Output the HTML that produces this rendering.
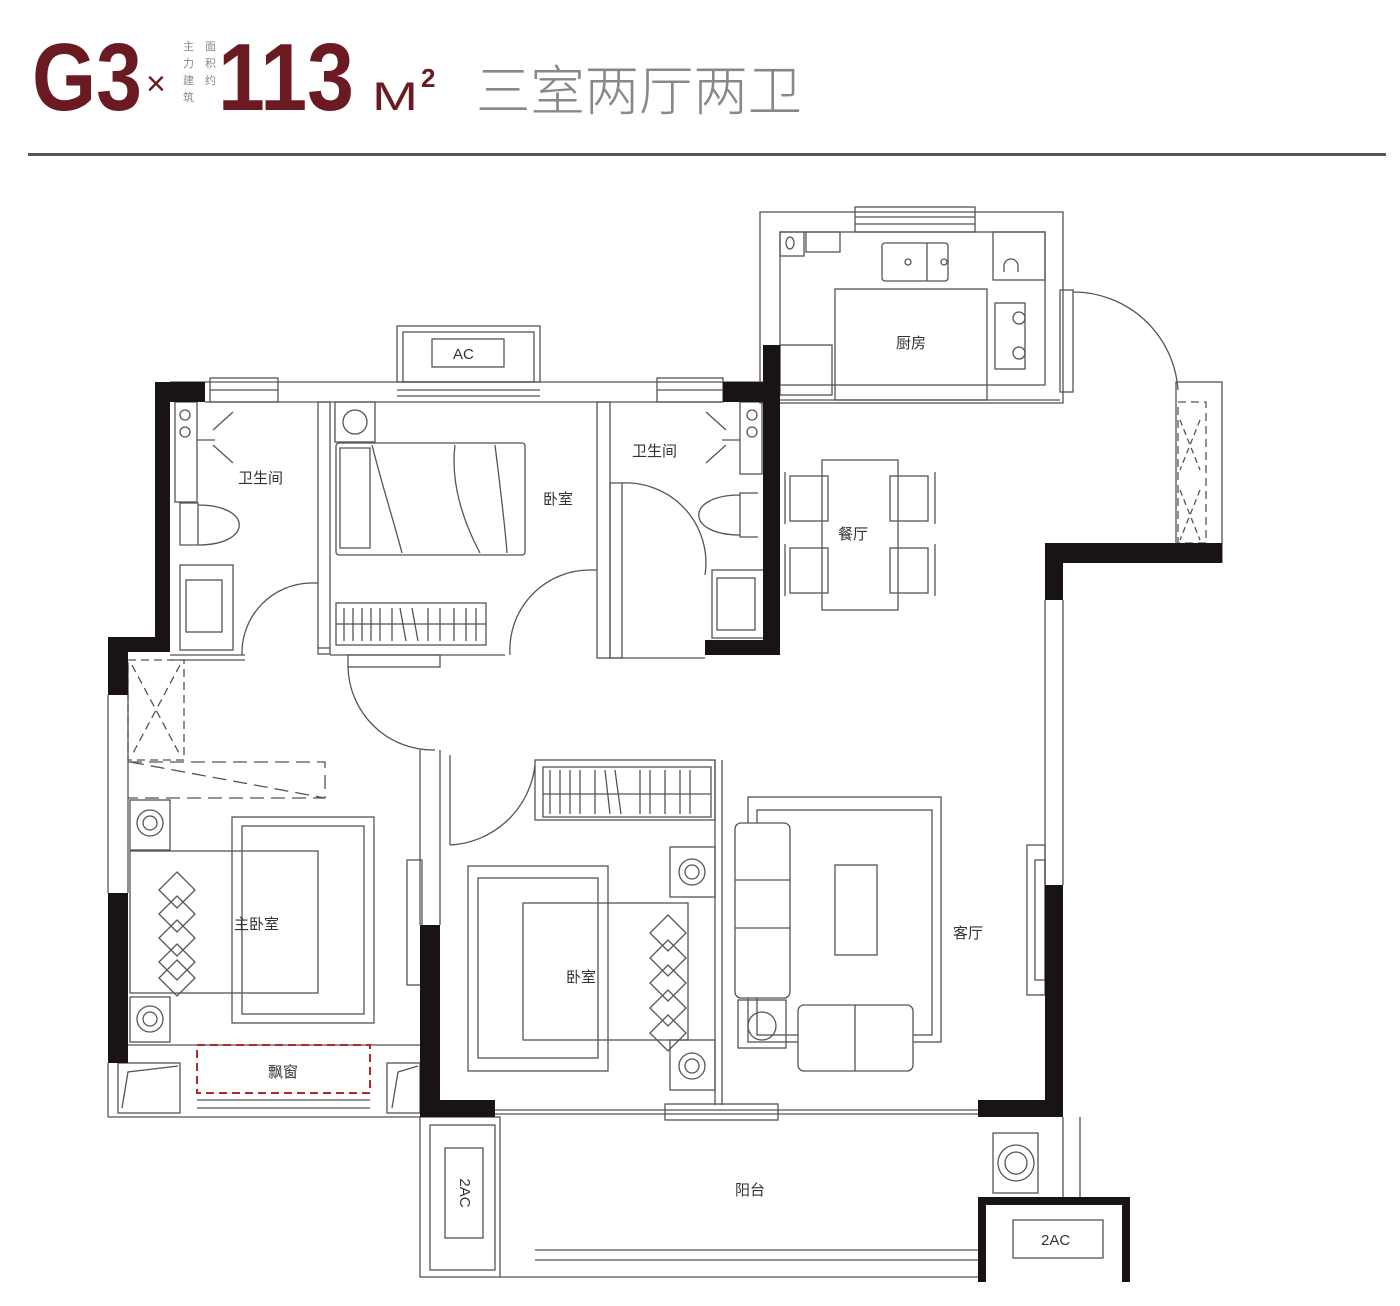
<!DOCTYPE html>
<html><head><meta charset="utf-8"><style>
html,body{margin:0;padding:0;background:#fff;}
svg{display:block}
</style></head><body>
<svg width="1400" height="1306" viewBox="0 0 1400 1306" xmlns="http://www.w3.org/2000/svg" font-family="Liberation Sans, Noto Sans CJK SC, sans-serif">
<!-- Header -->
<text x="32" y="110" font-size="96" font-weight="bold" fill="#6b1a22" textLength="110" lengthAdjust="spacingAndGlyphs">G3</text>
<text x="146" y="95" font-size="34" fill="#6b1a22">×</text>
<g font-size="11" fill="#888">
<text x="183" y="50">主</text><text x="183" y="67">力</text><text x="183" y="84">建</text><text x="183" y="101">筑</text>
<text x="205" y="50">面</text><text x="205" y="67">积</text><text x="205" y="84">约</text>
</g>
<text x="218" y="110" font-size="96" font-weight="bold" fill="#6b1a22" textLength="136" lengthAdjust="spacingAndGlyphs">113</text>
<text x="372" y="110" font-size="40" fill="#6b1a22" textLength="46" lengthAdjust="spacingAndGlyphs">M</text>
<text x="421" y="87" font-size="26" font-weight="bold" fill="#6b1a22">2</text>
<text x="476" y="110" font-size="54" fill="#888" font-weight="normal" textLength="326" lengthAdjust="spacingAndGlyphs" style="font-family:'Noto Sans CJK SC',sans-serif;font-weight:300">三室两厅两卫</text>
<rect x="28" y="153" width="1358" height="3" fill="#555"/>

<g fill="none" stroke="#555" stroke-width="1.3">
<!-- top exterior -->
<line x1="170" y1="382" x2="763" y2="382"/><line x1="205" y1="402" x2="723" y2="402"/>
<rect x="210" y="378" width="68" height="24"/><line x1="210" y1="390" x2="278" y2="390"/>
<rect x="397" y="326" width="143" height="56"/><rect x="403" y="332" width="131" height="50"/>
<line x1="397" y1="390" x2="540" y2="390"/><line x1="397" y1="396" x2="540" y2="396"/>
<rect x="432" y="339" width="72" height="28"/>
<rect x="657" y="378" width="66" height="24"/><line x1="657" y1="390" x2="723" y2="390"/>
<!-- kitchen -->
<rect x="760" y="212" width="303" height="191"/><rect x="780" y="232" width="265" height="153"/>
<rect x="855" y="207" width="120" height="25"/><line x1="855" y1="217" x2="975" y2="217"/><line x1="855" y1="224" x2="975" y2="224"/>
<rect x="780" y="232" width="24" height="24"/><ellipse cx="790" cy="243" rx="4" ry="6"/>
<rect x="806" y="232" width="34" height="20"/>
<rect x="882" y="243" width="66" height="38" rx="3"/><line x1="927" y1="243" x2="927" y2="281"/>
<circle cx="908" cy="262" r="3"/><circle cx="944" cy="262" r="3"/>
<rect x="993" y="232" width="52" height="48"/><path d="M1004 272 v-6 a7 7 0 0 1 14 0 v6"/>
<rect x="835" y="289" width="152" height="111"/>
<rect x="995" y="303" width="30" height="66"/><circle cx="1019" cy="318" r="6"/><circle cx="1019" cy="353" r="6"/>
<rect x="780" y="345" width="52" height="50"/>
<line x1="780" y1="400" x2="1060" y2="400"/>
<!-- kitchen door -->
<rect x="1060" y="290" width="13" height="102"/>
<path d="M1073 292 A105 105 0 0 1 1178 390"/>
<rect x="1176" y="382" width="46" height="180"/>
<rect x="1178" y="402" width="28" height="141" stroke-dasharray="8 5"/>
<path d="M1180 420 L1200 470 M1200 420 L1180 470 M1180 490 L1200 540 M1200 490 L1180 540" stroke-dasharray="6 4"/>
<!-- right exterior -->
<line x1="1045" y1="600" x2="1045" y2="885"/><line x1="1063" y1="600" x2="1063" y2="885"/>
<rect x="1027" y="845" width="18" height="150"/><rect x="1035" y="860" width="10" height="120"/>
<line x1="1063" y1="1117" x2="1063" y2="1197"/><line x1="1080" y1="1117" x2="1080" y2="1197"/>
<!-- left exterior -->
<line x1="108" y1="695" x2="108" y2="893"/><line x1="128" y1="662" x2="128" y2="893"/>
<rect x="128" y="660" width="56" height="100" stroke-dasharray="8 5"/>
<path d="M132 665 L180 755 M180 665 L132 755" stroke-dasharray="8 5"/>
<path d="M128 762 H325 V798 H128 M130 762 L325 798" stroke-dasharray="14 7"/>
<line x1="108" y1="1063" x2="108" y2="1117"/><line x1="108" y1="1117" x2="420" y2="1117"/>
<line x1="128" y1="1045" x2="420" y2="1045"/>
<rect x="118" y="1063" width="62" height="50"/><path d="M122 1108 L128 1072 L178 1066"/>
<rect x="387" y="1063" width="33" height="50"/><path d="M392 1108 L398 1072 L418 1066"/>
<line x1="197" y1="1100" x2="370" y2="1100"/><line x1="197" y1="1108" x2="370" y2="1108"/>
<!-- interior walls -->
<rect x="318" y="402" width="12" height="252"/><rect x="597" y="402" width="13" height="256"/>
<line x1="170" y1="655" x2="245" y2="655"/><line x1="170" y1="660" x2="245" y2="660"/>
<path d="M310 583 A70 70 0 0 0 242 655"/><line x1="310" y1="583" x2="318" y2="583"/>
<line x1="330" y1="655" x2="505" y2="655"/><line x1="318" y1="648" x2="330" y2="648"/>
<rect x="348" y="655" width="92" height="12"/>
<path d="M348 667 A85 85 0 0 0 435 750"/>
<path d="M590 570 A80 80 0 0 0 510 655"/><line x1="590" y1="570" x2="597" y2="570"/>
<path d="M622 483 A80 80 0 0 1 705 575"/><rect x="610" y="483" width="12" height="175"/>
<line x1="610" y1="658" x2="705" y2="658"/>
<!-- left bath -->
<rect x="175" y="402" width="22" height="100"/><circle cx="185" cy="415" r="5"/><circle cx="185" cy="432" r="5"/>
<path d="M197 440 h18 M213 430 l20 -18 M213 445 l20 18"/>
<path d="M180 503 h18 v42 h-18 z M198 505 c55 0 55 40 0 40"/>
<rect x="180" y="565" width="53" height="85"/><rect x="186" y="580" width="36" height="52"/>
<!-- right bath -->
<rect x="740" y="402" width="22" height="72"/><circle cx="752" cy="415" r="5"/><circle cx="752" cy="432" r="5"/>
<path d="M722 440 h18 M726 430 l-20 -18 M726 445 l-20 18"/>
<path d="M758 493 h-18 v44 h18 M740 495 c-55 0 -55 40 0 40"/>
<rect x="712" y="570" width="52" height="68"/><rect x="717" y="578" width="38" height="52"/>
<!-- bedroom top -->
<rect x="335" y="402" width="40" height="40"/><circle cx="355" cy="422" r="12"/>
<rect x="336" y="443" width="189" height="112" rx="3"/>
<path d="M340 448 h30 v100 h-30 z M372 445 c10 40 20 70 30 108 M455 445 c-5 40 10 80 25 108 M495 445 c5 40 10 80 12 108"/>
<rect x="336" y="603" width="150" height="42"/><line x1="336" y1="624" x2="486" y2="624"/>
<path d="M344 608 v33 M353 608 v33 M362 608 v33 M371 608 v33 M380 608 v33 M392 608 v33 M400 608 l6 33 M412 608 l6 33 M428 608 v33 M440 608 v33 M454 608 v33 M466 608 v33 M476 608 v33"/>
<!-- dining -->
<rect x="822" y="460" width="76" height="150"/>
<rect x="790" y="476" width="38" height="45"/><rect x="790" y="548" width="38" height="45"/>
<rect x="890" y="476" width="38" height="45"/><rect x="890" y="548" width="38" height="45"/>
<path d="M785 472 v52 M785 544 v52 M935 472 v52 M935 544 v52"/>
<!-- middle wall -->
<line x1="420" y1="750" x2="420" y2="925"/><line x1="440" y1="750" x2="440" y2="925"/>
<rect x="407" y="860" width="15" height="125"/>
<line x1="450" y1="755" x2="450" y2="845"/>
<path d="M450 845 A90 90 0 0 0 535 765"/>
<rect x="535" y="760" width="180" height="60"/><rect x="543" y="767" width="168" height="50"/>
<line x1="543" y1="794" x2="711" y2="794"/>
<path d="M550 770 v44 M560 770 v44 M570 770 v44 M580 770 v44 M595 770 v44 M605 770 l5 44 M615 770 l6 44 M640 770 v44 M650 770 v44 M665 770 v44 M680 770 v44 M690 770 v44"/>
<line x1="715" y1="760" x2="715" y2="1105"/><line x1="722" y1="760" x2="722" y2="1105"/>
<!-- bedroom 2 -->
<rect x="468" y="866" width="140" height="205"/><rect x="478" y="878" width="120" height="180"/>
<rect x="523" y="903" width="165" height="137"/>
<path d="M668 915 l18 18 -18 18 -18 -18z M668 940 l18 18 -18 18 -18 -18z M668 965 l18 18 -18 18 -18 -18z M668 990 l18 18 -18 18 -18 -18z M668 1015 l18 18 -18 18 -18 -18z"/>
<rect x="670" y="847" width="45" height="50"/><circle cx="692" cy="872" r="13"/><circle cx="692" cy="872" r="7"/>
<rect x="670" y="1040" width="45" height="50"/><circle cx="692" cy="1066" r="13"/><circle cx="692" cy="1066" r="7"/>
<!-- master -->
<rect x="130" y="800" width="40" height="50"/><circle cx="150" cy="823" r="13"/><circle cx="150" cy="823" r="7"/>
<rect x="130" y="997" width="40" height="45"/><circle cx="150" cy="1019" r="13"/><circle cx="150" cy="1019" r="7"/>
<rect x="232" y="817" width="142" height="206"/><rect x="242" y="826" width="122" height="188"/>
<rect x="130" y="851" width="188" height="142"/>
<path d="M177 872 l18 18 -18 18 -18 -18z M177 896 l18 18 -18 18 -18 -18z M177 920 l18 18 -18 18 -18 -18z M177 944 l18 18 -18 18 -18 -18z M177 960 l18 18 -18 18 -18 -18z"/>
<!-- living -->
<rect x="748" y="797" width="193" height="245"/><rect x="757" y="810" width="175" height="225"/>
<rect x="735" y="823" width="55" height="175" rx="6" fill="#fff"/><line x1="735" y1="880" x2="790" y2="880"/><line x1="735" y1="928" x2="790" y2="928"/>
<rect x="835" y="865" width="42" height="90"/>
<rect x="738" y="1000" width="48" height="48"/><circle cx="762" cy="1026" r="14"/>
<rect x="798" y="1005" width="115" height="66" rx="6" fill="#fff"/><line x1="855" y1="1005" x2="855" y2="1071"/>
<!-- balcony -->
<line x1="495" y1="1110" x2="978" y2="1110"/><line x1="495" y1="1114" x2="978" y2="1114"/>
<rect x="665" y="1104" width="113" height="16"/>
<rect x="420" y="1117" width="80" height="160"/><rect x="430" y="1125" width="65" height="145"/>
<rect x="445" y="1148" width="38" height="90"/>
<line x1="500" y1="1277" x2="978" y2="1277"/><line x1="535" y1="1250" x2="978" y2="1250"/><line x1="535" y1="1260" x2="978" y2="1260"/>
<rect x="993" y="1133" width="45" height="60"/><circle cx="1016" cy="1163" r="18"/><circle cx="1016" cy="1163" r="11"/>
<rect x="1013" y="1220" width="90" height="38"/>
</g>

<!-- thick walls -->
<g fill="#1a1314">
<rect x="155" y="382" width="50" height="20"/><rect x="155" y="382" width="15" height="270"/>
<rect x="108" y="637" width="62" height="15"/><rect x="108" y="637" width="20" height="58"/>
<rect x="108" y="893" width="20" height="170"/>
<rect x="723" y="382" width="57" height="20"/><rect x="763" y="345" width="17" height="310"/>
<rect x="705" y="640" width="75" height="15"/>
<rect x="1045" y="543" width="177" height="20"/><rect x="1045" y="543" width="18" height="57"/>
<rect x="1045" y="885" width="18" height="232"/><rect x="978" y="1100" width="85" height="17"/>
<rect x="420" y="925" width="20" height="192"/><rect x="420" y="1100" width="75" height="17"/>
<rect x="978" y="1197" width="152" height="8"/><rect x="978" y="1197" width="8" height="85"/><rect x="1122" y="1197" width="8" height="85"/>
</g>
<rect x="197" y="1045" width="173" height="48" fill="none" stroke="#b02a2a" stroke-width="2" stroke-dasharray="8 5"/>

<!-- labels -->
<g font-size="15" fill="#333">
<text x="453" y="359" font-size="15">AC</text>
<text x="238" y="483">卫生间</text>
<text x="632" y="456">卫生间</text>
<text x="543" y="504">卧室</text>
<text x="896" y="348">厨房</text>
<text x="838" y="539">餐厅</text>
<text x="234" y="929">主卧室</text>
<text x="566" y="982">卧室</text>
<text x="953" y="938">客厅</text>
<text x="268" y="1077">飘窗</text>
<text x="735" y="1195">阳台</text>
<text x="1041" y="1245">2AC</text>
<text x="464" y="1193" text-anchor="middle" dominant-baseline="middle" transform="rotate(90 464 1193)">2AC</text>
</g>
</svg>
</body></html>
